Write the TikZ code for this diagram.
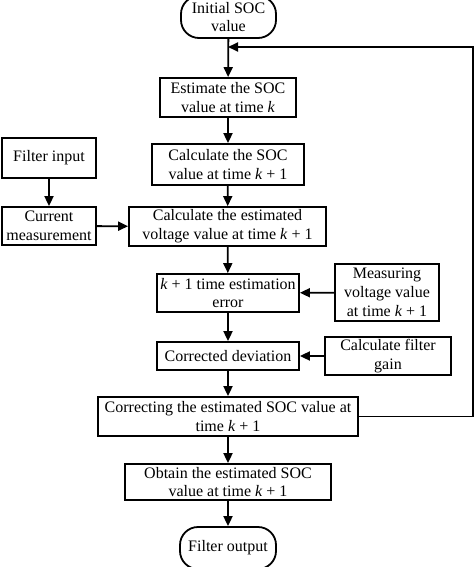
\documentclass[tikz,border=0pt]{standalone}
\usepackage{fontspec}
\setmainfont{Liberation Serif}
\usetikzlibrary{arrows.meta}
\begin{document}
\begin{tikzpicture}[x=1pt,y=-1pt,
  every node/.style={font=\fontsize{16}{18.8}\selectfont, align=center, inner sep=0pt},
  box/.style={draw, line width=1.8pt, rectangle},
  term/.style={draw, line width=1.8pt, rectangle, rounded corners=18pt},
  arr/.style={line width=1.8pt, -{Triangle[length=10pt,width=9pt]}},
  ln/.style={line width=1.8pt}]
\useasboundingbox (0,0) rectangle (474,567);
\node[term, minimum width=95pt, minimum height=42pt] (init) at (228.5,17) {Initial SOC\\value};
\node[box, minimum width=136pt, minimum height=39pt] (est) at (228,97.5) {Estimate the SOC\\value at time \textit{k}};
\node[box, minimum width=152pt, minimum height=41pt] (calcsoc) at (228,164.5) {Calculate the SOC\\value at time \textit{k} + 1};
\node[box, minimum width=94pt, minimum height=40pt] (filt) at (49,158) {Filter input};
\node[box, minimum width=94pt, minimum height=38pt] (cur) at (49,226) {Current\\measurement};
\node[box, minimum width=197pt, minimum height=39pt] (calcv) at (227.5,226.5) {Calculate the estimated\\voltage value at time \textit{k} + 1};
\node[box, minimum width=142pt, minimum height=38pt] (err) at (228,293) {\textit{k} + 1 time estimation\\error};
\node[box, minimum width=104pt, minimum height=57pt] (meas) at (387,292.5) {Measuring\\voltage value\\at time \textit{k} + 1};
\node[box, minimum width=142pt, minimum height=28pt] (corr) at (228,356) {Corrected deviation};
\node[box, minimum width=126pt, minimum height=38pt] (gain) at (388,356) {Calculate filter\\gain};
\node[box, minimum width=260pt, minimum height=39pt] (cing) at (228,416.5) {Correcting the estimated SOC value at\\time \textit{k} + 1};
\node[box, minimum width=206pt, minimum height=36pt] (obt) at (228,482) {Obtain the estimated SOC\\value at time \textit{k} + 1};
\node[term, minimum width=96pt, minimum height=42pt] (out) at (228,548) {Filter output};
\coordinate (fb) at (228,47);
\coordinate (fr) at (473,47);
\coordinate (fb2) at (473,416.5);
\draw[arr] (init) -- (est);
\draw[arr] (est) -- (calcsoc);
\draw[arr] (calcsoc) -- (calcv);
\draw[arr] (filt) -- (cur);
\draw[arr] (cur) -- (calcv);
\draw[arr] (calcv) -- (err);
\draw[arr] (meas) -- (err);
\draw[arr] (err) -- (corr);
\draw[arr] (gain) -- (corr);
\draw[arr] (corr) -- (cing);
\draw[arr] (cing) -- (obt);
\draw[arr] (obt) -- (out);
\draw[arr] (cing.east) -- (fb2) -- (fr) -- (fb);
\end{tikzpicture}
\end{document}
